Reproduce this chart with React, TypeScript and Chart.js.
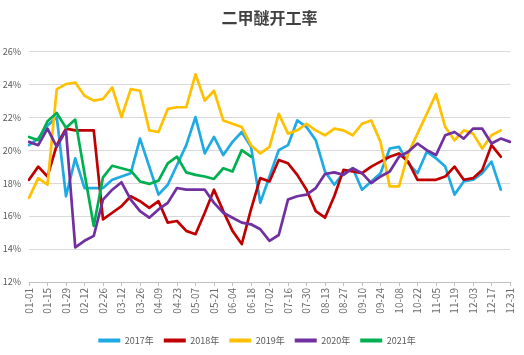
import React, { useEffect, useRef } from "react";
import { Chart, registerables } from "chart.js";

Chart.register(...registerables);

const weeks = [
  "01-01", "01-08", "01-15", "01-22", "01-29", "02-05", "02-12", "02-19", "02-26",
  "03-05", "03-12", "03-19", "03-26", "04-02", "04-09", "04-16", "04-23", "04-30",
  "05-07", "05-14", "05-21", "05-28", "06-04", "06-11", "06-18", "06-25",
  "07-02", "07-09", "07-16", "07-23", "07-30", "08-06", "08-13", "08-20", "08-27",
  "09-03", "09-10", "09-17", "09-24", "10-01", "10-08", "10-15", "10-22", "10-29",
  "11-05", "11-12", "11-19", "11-26", "12-03", "12-10", "12-17", "12-24", "12-31",
];

const seriesNames = ["2017年", "2018年", "2019年", "2020年", "2021年"];

const rate2017 = [
  20.3, 20.7, 21.5, 22.0, 17.2, 19.5, 17.7, 17.7, 17.7, 18.2, 18.4, 18.6, 20.7,
  19.0, 17.3, 17.9, 19.1, 20.3, 22.0, 19.8, 20.8, 19.7, 20.5, 21.1, 20.2, 16.8,
  18.4, 20.0, 20.3, 21.8, 21.4, 20.6, 18.7, 17.9, 18.6, 18.9, 17.6, 18.1, 18.6,
  20.1, 20.2, 19.2, 18.6, 19.9, 19.5, 19.0, 17.3, 18.1, 18.2, 18.6, 19.3, 17.6,
];
const rate2018 = [
  18.2, 19.0, 18.4, 20.3, 21.3, 21.2, 21.2, 21.2, 15.8, 16.2, 16.6, 17.2, 16.9,
  16.5, 16.9, 15.6, 15.7, 15.1, 14.9, 16.2, 17.6, 16.3, 15.1, 14.3, 16.4, 18.3,
  18.1, 19.4, 19.2, 18.5, 17.6, 16.3, 15.9, 17.2, 18.8, 18.7, 18.6, 19.0, 19.3,
  19.6, 19.8, 19.3, 18.2, 18.2, 18.2, 18.4, 19.0, 18.2, 18.3, 18.8, 20.3, 19.6,
];
const rate2019 = [
  17.1, 18.3, 17.9, 23.7, 24.0, 24.1, 23.3, 23.0, 23.1, 23.8, 22.0, 23.7, 23.6,
  21.2, 21.1, 22.5, 22.6, 22.6, 24.6, 23.0, 23.6, 21.8, 21.6, 21.4, 20.3, 19.8,
  20.2, 22.2, 21.0, 21.2, 21.6, 21.2, 20.9, 21.3, 21.2, 20.9, 21.6, 21.8, 20.5,
  17.8, 17.8, 19.8, 21.0, 22.2, 23.4, 21.4, 20.6, 21.2, 21.0, 20.1, 20.9, 21.2,
];
const rate2020 = [
  20.5, 20.3, 21.3, 20.2, 21.2, 14.1, 14.5, 14.8, 17.0, 17.6, 18.05, 17.0, 16.3,
  15.9, 16.4, 16.8, 17.7, 17.6, 17.6, 17.6, 16.8, 16.2, 15.9, 15.6, 15.5, 15.2,
  14.5, 14.85, 17.0, 17.2, 17.3, 17.7, 18.55, 18.65, 18.5, 18.9, 18.6, 18.0, 18.4,
  18.7, 19.6, 19.9, 20.4, 20.0, 19.7, 20.9, 21.1, 20.7, 21.3, 21.3, 20.4, 20.7, 20.5,
];
const rate2021 = [
  20.8, 20.6, 21.75, 22.25, 21.35, 21.85, 18.6, 15.4, 18.35, 19.05, 18.9, 18.75,
  18.1, 17.95, 18.15, 19.2, 19.6, 18.65, 18.5, 18.4, 18.25, 18.9, 18.7, 20.0, 19.6,
];

const seriesValues = [rate2017, rate2018, rate2019, rate2020, rate2021];
const seriesColors = ["#1FAAE4", "#C00000", "#FFC000", "#7030A0", "#00B050"];

const yMin = 12;
const yMax = 26;
const yStep = 2;

const FONT = '"Noto Sans CJK SC", "Noto Sans", sans-serif';

export default function App() {
  const ref = useRef<HTMLCanvasElement>(null);

  useEffect(() => {
    if (!ref.current) return;
    const chart = new Chart(ref.current, {
      type: "line",
      data: {
        labels: weeks,
        datasets: seriesNames.map((name, k) => ({
          label: name,
          data: seriesValues[k],
          borderColor: seriesColors[k],
          backgroundColor: seriesColors[k],
          order: seriesNames.length - k,
        })),
      },
      options: {
        animation: false,
        responsive: false,
        devicePixelRatio: 1,
        layout: { padding: { left: 0, right: 10, top: 0, bottom: 0 } },
        elements: {
          point: { radius: 0, hoverRadius: 0 },
          line: {
            tension: 0,
            borderWidth: 2.7,
            borderCapStyle: "round",
            borderJoinStyle: "round",
          },
        },
        plugins: {
          title: {
            display: true,
            text: "二甲醚开工率",
            fullSize: false,
            color: "#404040",
            font: { family: FONT, size: 16, weight: "bold" },
            padding: { top: 8, bottom: 24 },
          },
          legend: {
            position: "bottom",
            labels: {
              boxWidth: 22,
              boxHeight: 4,
              padding: 10,
              color: "#595959",
              font: { family: FONT, size: 9 },
              sort: (a: any, b: any) => a.datasetIndex - b.datasetIndex,
              generateLabels: (c: any) =>
                (Chart as any).defaults.plugins.legend.labels
                  .generateLabels(c)
                  .map((it: any) => ({ ...it, lineWidth: 0 })),
            },
          },
          tooltip: { enabled: false },
        },
        scales: {
          x: {
            grid: {
              drawOnChartArea: false,
              drawTicks: true,
              tickLength: 4,
              color: (ctx: any) => (ctx.index % 2 === 0 ? "#BFBFBF" : "rgba(0,0,0,0)"),
            },
            border: { display: true, color: "#BFBFBF" },
            ticks: {
              autoSkip: false,
              maxRotation: 90,
              minRotation: 90,
              padding: 2,
              color: "#6B6B6B",
              font: { family: FONT, size: 10 },
              callback: (_v: any, i: number) => (i % 2 === 0 ? weeks[i] : ""),
            },
            afterFit: (s: any) => {
              s.height = 44;
            },
          },
          y: {
            min: yMin,
            max: yMax,
            ticks: {
              stepSize: yStep,
              padding: 8,
              color: "#595959",
              font: { family: FONT, size: 9 },
              callback: (v: any) => v + "%",
            },
            grid: { color: "#D9D9D9", drawTicks: false },
            border: { display: false },
            afterFit: (s: any) => {
              s.width = 29;
            },
          },
        },
      } as any,
    });
    return () => chart.destroy();
  }, []);

  return (
    <div
      style={{
        position: "fixed",
        left: 0,
        top: 0,
        width: 524,
        height: 355,
        background: "#ffffff",
      }}
    >
      <canvas ref={ref} width={524} height={355} style={{ display: "block" }} />
    </div>
  );
}
